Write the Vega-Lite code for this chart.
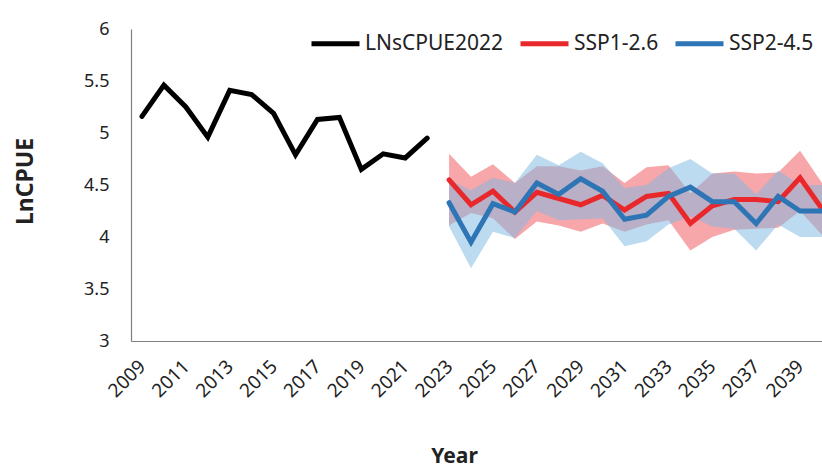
{
  "$schema": "https://vega.github.io/schema/vega-lite/v6.json",
  "width": 691,
  "height": 312,
  "autosize": {"type": "none"},
  "padding": {"left": 131, "top": 29, "right": 0, "bottom": 124},
  "background": "white",
  "config": {
    "view": {"stroke": null},
    "font": "Noto Sans",
    "axis": {"grid": false, "ticks": false, "domainColor": "#7f7f7f", "domainWidth": 1.2, "labelColor": "#222222", "titleColor": "#222222", "labelFont": "Noto Sans", "titleFont": "Noto Sans"}
  },
  "data": {
    "values": [
      {"year": 2009, "series": "LNsCPUE2022", "value": 5.16},
      {"year": 2010, "series": "LNsCPUE2022", "value": 5.46},
      {"year": 2011, "series": "LNsCPUE2022", "value": 5.25},
      {"year": 2012, "series": "LNsCPUE2022", "value": 4.96},
      {"year": 2013, "series": "LNsCPUE2022", "value": 5.41},
      {"year": 2014, "series": "LNsCPUE2022", "value": 5.37},
      {"year": 2015, "series": "LNsCPUE2022", "value": 5.19},
      {"year": 2016, "series": "LNsCPUE2022", "value": 4.79},
      {"year": 2017, "series": "LNsCPUE2022", "value": 5.13},
      {"year": 2018, "series": "LNsCPUE2022", "value": 5.15},
      {"year": 2019, "series": "LNsCPUE2022", "value": 4.65},
      {"year": 2020, "series": "LNsCPUE2022", "value": 4.80},
      {"year": 2021, "series": "LNsCPUE2022", "value": 4.76},
      {"year": 2022, "series": "LNsCPUE2022", "value": 4.95},
      {"year": 2023, "series": "SSP1-2.6", "value": 4.55, "lo": 4.11, "hi": 4.80},
      {"year": 2024, "series": "SSP1-2.6", "value": 4.31, "lo": 4.23, "hi": 4.58},
      {"year": 2025, "series": "SSP1-2.6", "value": 4.44, "lo": 4.18, "hi": 4.70},
      {"year": 2026, "series": "SSP1-2.6", "value": 4.24, "lo": 3.98, "hi": 4.52},
      {"year": 2027, "series": "SSP1-2.6", "value": 4.43, "lo": 4.15, "hi": 4.68},
      {"year": 2028, "series": "SSP1-2.6", "value": 4.37, "lo": 4.11, "hi": 4.68},
      {"year": 2029, "series": "SSP1-2.6", "value": 4.31, "lo": 4.05, "hi": 4.64},
      {"year": 2030, "series": "SSP1-2.6", "value": 4.40, "lo": 4.13, "hi": 4.68},
      {"year": 2031, "series": "SSP1-2.6", "value": 4.26, "lo": 4.05, "hi": 4.52},
      {"year": 2032, "series": "SSP1-2.6", "value": 4.39, "lo": 4.12, "hi": 4.67},
      {"year": 2033, "series": "SSP1-2.6", "value": 4.42, "lo": 4.16, "hi": 4.69},
      {"year": 2034, "series": "SSP1-2.6", "value": 4.13, "lo": 3.87, "hi": 4.42},
      {"year": 2035, "series": "SSP1-2.6", "value": 4.30, "lo": 4.00, "hi": 4.61},
      {"year": 2036, "series": "SSP1-2.6", "value": 4.36, "lo": 4.07, "hi": 4.63},
      {"year": 2037, "series": "SSP1-2.6", "value": 4.36, "lo": 4.08, "hi": 4.61},
      {"year": 2038, "series": "SSP1-2.6", "value": 4.34, "lo": 4.09, "hi": 4.62},
      {"year": 2039, "series": "SSP1-2.6", "value": 4.57, "lo": 4.25, "hi": 4.83},
      {"year": 2040, "series": "SSP1-2.6", "value": 4.27, "lo": 4.02, "hi": 4.52},
      {"year": 2023, "series": "SSP2-4.5", "value": 4.33, "lo": 4.10, "hi": 4.55},
      {"year": 2024, "series": "SSP2-4.5", "value": 3.95, "lo": 3.70, "hi": 4.45},
      {"year": 2025, "series": "SSP2-4.5", "value": 4.32, "lo": 4.05, "hi": 4.57},
      {"year": 2026, "series": "SSP2-4.5", "value": 4.24, "lo": 3.99, "hi": 4.52},
      {"year": 2027, "series": "SSP2-4.5", "value": 4.52, "lo": 4.25, "hi": 4.79},
      {"year": 2028, "series": "SSP2-4.5", "value": 4.41, "lo": 4.16, "hi": 4.69},
      {"year": 2029, "series": "SSP2-4.5", "value": 4.56, "lo": 4.17, "hi": 4.82},
      {"year": 2030, "series": "SSP2-4.5", "value": 4.44, "lo": 4.18, "hi": 4.71},
      {"year": 2031, "series": "SSP2-4.5", "value": 4.17, "lo": 3.91, "hi": 4.47},
      {"year": 2032, "series": "SSP2-4.5", "value": 4.21, "lo": 3.96, "hi": 4.50},
      {"year": 2033, "series": "SSP2-4.5", "value": 4.39, "lo": 4.12, "hi": 4.66},
      {"year": 2034, "series": "SSP2-4.5", "value": 4.48, "lo": 4.20, "hi": 4.75},
      {"year": 2035, "series": "SSP2-4.5", "value": 4.34, "lo": 4.10, "hi": 4.61},
      {"year": 2036, "series": "SSP2-4.5", "value": 4.34, "lo": 4.08, "hi": 4.61},
      {"year": 2037, "series": "SSP2-4.5", "value": 4.13, "lo": 3.87, "hi": 4.41},
      {"year": 2038, "series": "SSP2-4.5", "value": 4.39, "lo": 4.12, "hi": 4.64},
      {"year": 2039, "series": "SSP2-4.5", "value": 4.25, "lo": 4.00, "hi": 4.50},
      {"year": 2040, "series": "SSP2-4.5", "value": 4.25, "lo": 4.00, "hi": 4.50}
    ]
  },
  "encoding": {
    "x": {
      "field": "year", "type": "quantitative",
      "scale": {"domain": [2008.5, 2040], "nice": false, "zero": false},
      "axis": {
        "title": "Year", "values": [2009, 2011, 2013, 2015, 2017, 2019, 2021, 2023, 2025, 2027, 2029, 2031, 2033, 2035, 2037, 2039],
        "format": "d", "labelAngle": -45, "labelAlign": "right", "labelBaseline": "middle",
        "labelFontSize": 19, "labelPadding": 22, "labelOverlap": false, "labelBound": false, "labelFlush": false,
        "titleFontSize": 21, "titleFontWeight": "bold", "titleX": 323, "titleY": 121, "titleBaseline": "alphabetic", "titleAlign": "center"
      }
    },
    "y": {
      "scale": {"domain": [3, 6], "nice": false, "zero": false},
      "type": "quantitative"
    }
  },
  "layer": [
    {
      "transform": [{"filter": "datum.series === 'SSP1-2.6'"}],
      "mark": {"type": "area", "color": "#EF4F56", "opacity": 0.5},
      "encoding": {
        "y": {"field": "lo", "type": "quantitative", "axis": {
          "title": "LnCPUE", "values": [3, 3.5, 4, 4.5, 5, 5.5, 6], "format": "~g", "labelFontSize": 18, "labelPadding": 22,
          "titleFontSize": 23, "titleFontWeight": "bold", "titleX": -106, "titleY": 152, "titleAngle": -90, "titleAlign": "center", "titleBaseline": "middle"
        }},
        "y2": {"field": "hi"}
      }
    },
    {
      "transform": [{"filter": "datum.series === 'SSP2-4.5'"}],
      "mark": {"type": "area", "color": "#7BB7E2", "opacity": 0.5},
      "encoding": {
        "y": {"field": "lo", "type": "quantitative"},
        "y2": {"field": "hi"}
      }
    },
    {
      "mark": {"type": "line", "strokeWidth": 5, "strokeJoin": "miter", "strokeCap": "round"},
      "encoding": {
        "y": {"field": "value", "type": "quantitative"},
        "color": {
          "field": "series", "type": "nominal",
          "scale": {"domain": ["LNsCPUE2022", "SSP1-2.6", "SSP2-4.5"], "range": ["#000000", "#E8282B", "#2E75B6"]},
          "legend": {
            "title": null, "orient": "none", "legendX": 178, "legendY": -12, "direction": "horizontal", "columns": 3,
            "symbolType": "stroke", "symbolSize": 2304, "symbolStrokeWidth": 5, "labelFontSize": 21, "labelColor": "#222222",
            "labelOffset": 3, "columnPadding": 6, "labelLimit": 300
          }
        }
      }
    }
  ]
}
